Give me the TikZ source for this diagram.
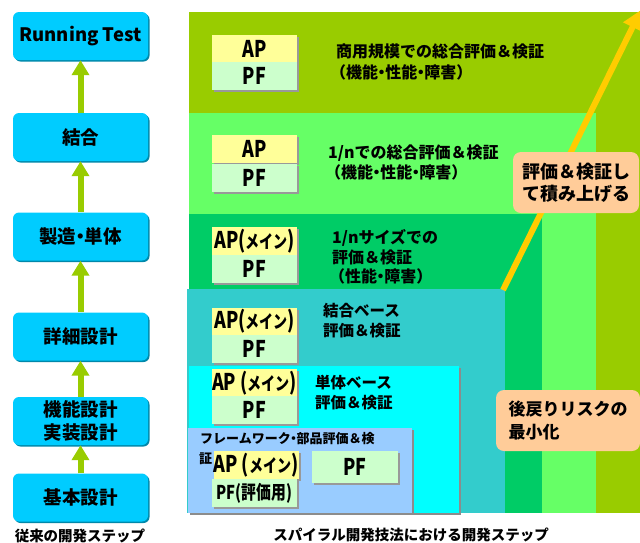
\documentclass[tikz,border=0pt]{standalone}
\usepackage{fontspec}
\setmainfont{Noto Sans CJK JP}
\newfontfamily\apfont{Noto Sans CJK JP}[FakeStretch=0.78]
\usetikzlibrary{arrows.meta,shadows}
\newcommand\nakaguro{\kern-0.28em・\kern-0.28em}
\definecolor{boxc}{HTML}{00CCFF}
\definecolor{boxsh}{HTML}{0088AA}
\definecolor{agreen}{HTML}{99CC00}
\definecolor{layA}{HTML}{99CC00}
\definecolor{layB}{HTML}{66FF66}
\definecolor{layC}{HTML}{00CC66}
\definecolor{layD}{HTML}{33CCCC}
\definecolor{layE}{HTML}{00FFFF}
\definecolor{layF}{HTML}{99CCFF}
\definecolor{apy}{HTML}{FFFF99}
\definecolor{pfg}{HTML}{CCFFCC}
\definecolor{callc}{HTML}{FFCC99}
\definecolor{orar}{HTML}{FFCC00}
\begin{document}
\begin{tikzpicture}[x=1pt,y=-1pt,
  stepbox/.style={fill=boxc, rounded corners=6pt, minimum width=135pt, minimum height=48pt, inner sep=0pt, align=center,
    general shadow={fill=boxsh, shadow xshift=1.5pt, shadow yshift=-1.5pt}, font=\bfseries\fontsize{18.5}{24}\selectfont},
  uparrow/.style={draw=agreen, line width=6pt, -{Triangle[width=17pt,length=15pt]}},
  apbox/.style={fill=apy, minimum width=85pt, minimum height=28pt, inner sep=0pt,
    general shadow={fill=black!40, shadow xshift=2pt, shadow yshift=-2pt}, font=\apfont\bfseries\fontsize{23}{26}\selectfont},
  pfbox/.style={apbox, fill=pfg},
  laytext/.style={anchor=base west, inner sep=0pt, font=\bfseries\fontsize{16}{20}\selectfont},
  callout/.style={fill=callc, rounded corners=8pt, inner sep=0pt, align=left, font=\bfseries\fontsize{18}{22}\selectfont},
  captext/.style={inner sep=0pt, font=\bfseries\fontsize{14.5}{17}\selectfont},
  layshadow/.style={general shadow={fill=black!45, shadow xshift=2pt, shadow yshift=-2pt}}
]
\useasboundingbox (0,0) rectangle (640,542);
\fill[white] (0,0) rectangle (640,542);

% spiral layers
\fill[layA] (189,12) rectangle (640,513);
\fill[layB] (189,113) rectangle (596,513);
\fill[layC] (189,214) rectangle (542,513);
\fill[layD] (187,289) rectangle (505,513);
\path[fill=layE, layshadow] (189,366) rectangle (459,513);
\path[fill=layF, layshadow] (188,428) rectangle (412,513);

% rising arrow
\coordinate (arS) at (503,290);
\coordinate (arE) at (641,10);
\draw[orar, line width=6pt, -{Triangle[width=20pt,length=19pt]}] (arS) -- (arE);

% callouts
\node[callout, minimum width=126pt, minimum height=61pt] (c1) at (576,182.5) {評価＆検証し\\て積み上げる};
\node[callout, minimum width=144pt, minimum height=61pt, font=\bfseries\fontsize{17}{23}\selectfont] (c2) at (568,420.5) {後戻りリスクの\\最小化};

% AP / PF boxes
\node[apbox] (ap1) at (254.5,48.5) {AP};
\node[pfbox] (pf1) at (254.5,76) {PF};
\node[apbox] (ap2) at (254.5,149) {AP};
\node[pfbox] (pf2) at (254.5,177.5) {PF};
\node[apbox] (ap3) at (254.5,241) {AP({\fontsize{18}{20}\selectfont メイン})};
\node[pfbox] (pf3) at (254.5,269) {PF};
\node[apbox] (ap4) at (254.5,321.5) {AP({\fontsize{18}{20}\selectfont メイン})};
\node[pfbox] (pf4) at (254.5,349) {PF};
\node[apbox] (ap5) at (254.5,383) {AP ({\fontsize{18}{20}\selectfont メイン})};
\node[pfbox] (pf5) at (254.5,410) {PF};
\node[apbox] (ap6) at (256,465) {AP ({\fontsize{18}{20}\selectfont メイン})};
\node[pfbox, font=\apfont\bfseries\fontsize{19}{22}\selectfont] (pf6) at (254.5,493) {PF(評価用)};
\node[pfbox, minimum width=86pt, minimum height=32pt] (pf6b) at (355,467) {PF};

% layer texts
\node[laytext] (t1a) at (336,57) {商用規模での総合評価＆検証};
\node[laytext] (t1b) at (330,78) {（機能\nakaguro 性能\nakaguro 障害）};
\node[laytext] (t2a) at (328,158) {1/nでの総合評価＆検証};
\node[laytext] (t2b) at (325,178) {（機能\nakaguro 性能\nakaguro 障害）};
\node[laytext] (t3a) at (332,243) {1/nサイズでの};
\node[laytext] (t3b) at (332,263) {評価＆検証};
\node[laytext] (t3c) at (329,282) {（性能\nakaguro 障害）};
\node[laytext, font=\bfseries\fontsize{15.5}{20}\selectfont] (t4a) at (323,316) {結合ベース};
\node[laytext, font=\bfseries\fontsize{15.5}{20}\selectfont] (t4b) at (323,336) {評価＆検証};
\node[laytext, font=\bfseries\fontsize{15.5}{20}\selectfont] (t5a) at (315,388) {単体ベース};
\node[laytext, font=\bfseries\fontsize{15.5}{20}\selectfont] (t5b) at (315,408) {評価＆検証};
\node[laytext, font=\bfseries\fontsize{13}{18}\selectfont] (t6a) at (200,443) {フレームワーク\nakaguro 部品評価＆検};
\node[laytext, font=\bfseries\fontsize{13}{18}\selectfont] (t6b) at (199,463) {証};

% conventional steps
\node[stepbox] (rt) at (80.5,36) {Running Test};
\node[stepbox] (ketsu) at (80.5,137) {結合};
\node[stepbox] (seizo) at (80.5,236.5) {製造\nakaguro 単体};
\node[stepbox] (shosai) at (80.5,336.5) {詳細設計};
\node[stepbox, font=\bfseries\fontsize{18.5}{23}\selectfont] (kinou) at (80.5,421) {機能設計\\実装設計};
\node[stepbox] (kihon) at (80.5,497.5) {基本設計};

\draw[uparrow] (kihon.north) -- (kinou.south);
\draw[uparrow] (kinou.north) -- (shosai.south);
\draw[uparrow] (shosai.north) -- (seizo.south);
\draw[uparrow] (seizo.north) -- (ketsu.south);
\draw[uparrow] (ketsu.north) -- (rt.south);

% captions
\node[captext] (cap1) at (80,536) {従来の開発ステップ};
\node[captext] (cap2) at (411,535) {スパイラル開発技法における開発ステップ};
\end{tikzpicture}
\end{document}
